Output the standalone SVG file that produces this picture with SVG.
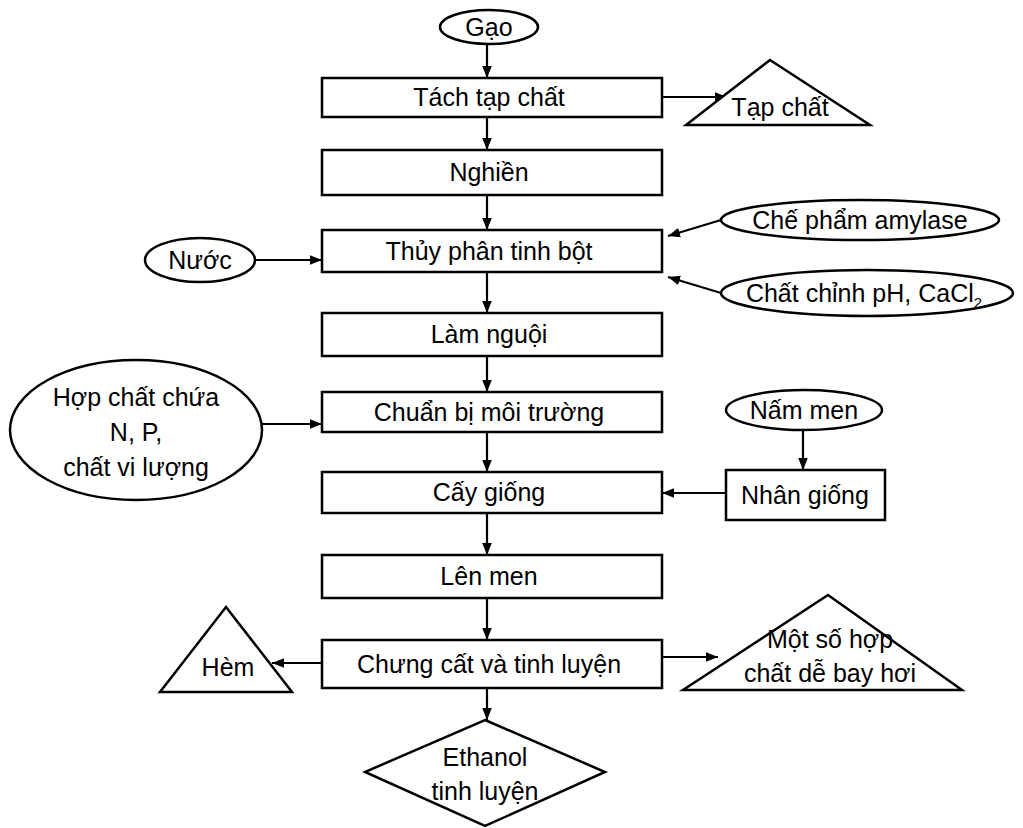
<svg xmlns="http://www.w3.org/2000/svg" width="1023" height="828" viewBox="0 0 1023 828">
<style>
.s{fill:#fff;stroke:#000;stroke-width:2.5}
.t{font-family:"Liberation Sans",Arial,sans-serif;font-size:25px;fill:#000;text-anchor:middle}
.c{stroke:#000;stroke-width:2.2;fill:none;marker-end:url(#a)}
</style>
<defs>
<marker id="a" viewBox="0 0 10 10" refX="10" refY="5" markerWidth="12" markerHeight="12" markerUnits="userSpaceOnUse" orient="auto">
<path d="M0,1 L10,5 L0,9 Z" fill="#000"/>
</marker>
</defs>
<rect width="1023" height="828" fill="#fff"/>
<g id="connectors">
<line class="c" x1="487" y1="45" x2="487" y2="78"/>
<line class="c" x1="662" y1="97" x2="727" y2="97"/>
<line class="c" x1="487" y1="117" x2="487" y2="150"/>
<line class="c" x1="487" y1="195" x2="487" y2="230"/>
<line class="c" x1="255" y1="260" x2="322" y2="260"/>
<line class="c" x1="721" y1="220" x2="668" y2="236"/>
<line class="c" x1="721" y1="293" x2="668" y2="277"/>
<line class="c" x1="487" y1="272" x2="487" y2="313"/>
<line class="c" x1="487" y1="356" x2="487" y2="392"/>
<line class="c" x1="262" y1="424" x2="322" y2="424"/>
<line class="c" x1="487" y1="432" x2="487" y2="472"/>
<line class="c" x1="803" y1="430" x2="803" y2="470"/>
<line class="c" x1="726" y1="493" x2="662" y2="493"/>
<line class="c" x1="487" y1="513" x2="487" y2="555"/>
<line class="c" x1="487" y1="598" x2="487" y2="640"/>
<line class="c" x1="322" y1="663" x2="272" y2="663"/>
<line class="c" x1="662" y1="657" x2="718" y2="657"/>
<line class="c" x1="487" y1="688" x2="487" y2="720"/>
</g>
<g id="gao"><ellipse class="s" cx="489" cy="27" rx="49" ry="17"/><text class="t" x="489" y="36">Gạo</text></g>
<g id="tach"><rect class="s" x="322" y="78" width="340" height="39"/><text class="t" x="489" y="106">Tách tạp chất</text></g>
<g id="tapchat"><polygon class="s" points="770,60 870,125 686,125"/><text class="t" x="780" y="116">Tạp chất</text></g>
<g id="nghien"><rect class="s" x="322" y="150" width="340" height="45"/><text class="t" x="489" y="181">Nghiền</text></g>
<g id="thuyphan"><rect class="s" x="322" y="230" width="340" height="42"/><text class="t" x="489" y="260">Thủy phân tinh bột</text></g>
<g id="nuoc"><ellipse class="s" cx="200" cy="260" rx="55" ry="22"/><text class="t" x="200" y="269">Nước</text></g>
<g id="amylase"><ellipse class="s" cx="860" cy="220" rx="139" ry="20"/><text class="t" x="860" y="229">Chế phẩm amylase</text></g>
<g id="ph"><ellipse class="s" cx="867" cy="293" rx="146" ry="23"/><text class="t" x="864" y="302">Chất chỉnh pH, CaCl<tspan font-size="15" dy="6">2</tspan></text></g>
<g id="lamnguoi"><rect class="s" x="322" y="313" width="340" height="43"/><text class="t" x="489" y="343">Làm nguội</text></g>
<g id="chuanbi"><rect class="s" x="322" y="392" width="340" height="40"/><text class="t" x="489" y="421">Chuẩn bị môi trường</text></g>
<g id="hopchat"><ellipse class="s" cx="136" cy="430" rx="126" ry="70"/><text class="t" x="136" y="406">Hợp chất chứa</text><text class="t" x="136" y="441">N, P,</text><text class="t" x="136" y="476">chất vi lượng</text></g>
<g id="nammen"><ellipse class="s" cx="804" cy="410" rx="78" ry="20"/><text class="t" x="804" y="419">Nấm men</text></g>
<g id="nhangiong"><rect class="s" x="726" y="470" width="159" height="50"/><text class="t" x="805" y="504">Nhân giống</text></g>
<g id="caygiong"><rect class="s" x="322" y="472" width="340" height="41"/><text class="t" x="489" y="501">Cấy giống</text></g>
<g id="lenmen"><rect class="s" x="322" y="555" width="340" height="43"/><text class="t" x="489" y="585">Lên men</text></g>
<g id="chungcat"><rect class="s" x="322" y="640" width="340" height="48"/><text class="t" x="489" y="673">Chưng cất và tinh luyện</text></g>
<g id="hem"><polygon class="s" points="226,607 292,692 160,692"/><text class="t" x="228" y="676">Hèm</text></g>
<g id="motso"><polygon class="s" points="828,595 962,690 683,690"/><text class="t" x="830" y="648">Một số hợp</text><text class="t" x="830" y="682">chất dễ bay hơi</text></g>
<g id="ethanol"><polygon class="s" points="485,720 605,772 485,826 365,772"/><text class="t" x="485" y="766">Ethanol</text><text class="t" x="485" y="800">tinh luyện</text></g>
</svg>
